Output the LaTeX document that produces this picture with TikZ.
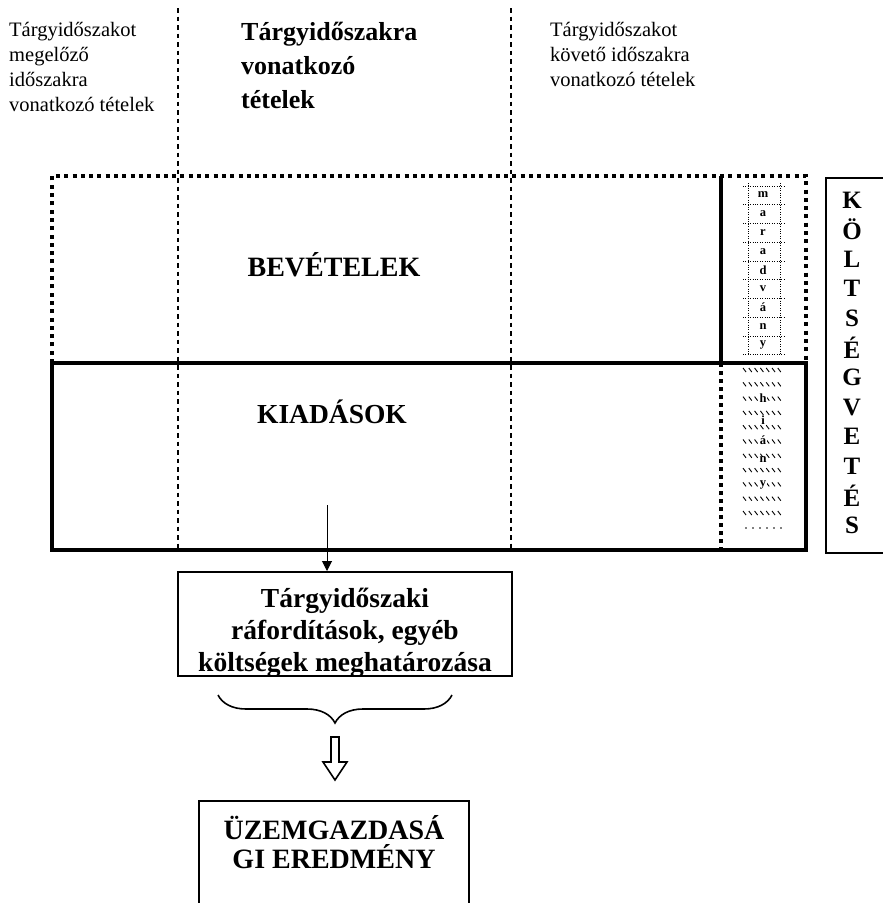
\documentclass[tikz,border=0pt]{standalone}
\usepackage{fontspec}
\setmainfont{Liberation Serif}
\usetikzlibrary{arrows.meta, positioning, decorations.pathreplacing, calc}

\newcommand{\hdrfont}{\fontsize{20.5}{25}\selectfont}
\newcommand{\hdrbold}{\fontsize{26}{34}\selectfont\bfseries}
\newcommand{\boxfont}{\fontsize{27.5}{32}\selectfont\bfseries}
\newcommand{\resfont}{\fontsize{28}{29}\selectfont\bfseries}
\newcommand{\vertfont}{\fontsize{25}{25}\selectfont\bfseries}
\newcommand{\stripfont}{\fontsize{12.5}{12.5}\selectfont\bfseries}

\begin{document}
\begin{tikzpicture}[x=1pt, y=-1pt,
    thickline/.style={line width=4pt},
    dotedge/.style={line width=4pt, dash pattern=on 4pt off 4.3pt},
    colline/.style={line width=1.8pt, dash pattern=on 4.5pt off 4pt},
    framebox/.style={draw, line width=1.6pt, inner sep=0pt},
    lbl/.style={inner sep=0pt, font=\boxfont},
    head/.style={inner sep=0pt, anchor=north west, align=left},
    cell/.style={line width=0.9pt, dash pattern=on 0.9pt off 1.5pt},
    hatch/.style={line width=0.9pt},
    striplbl/.style={inner sep=0.5pt, font=\stripfont}]

  \useasboundingbox (0,0) rectangle (883,903);
  \clip (0,0) rectangle (883,903);

  % Column heads
  \node[head, font=\hdrfont] (prev) at (9,22)
    {Tárgyidőszakot\\megelőző\\időszakra\\vonatkozó tételek};
  \node[head, font=\hdrbold] (curr) at (241,22)
    {Tárgyidőszakra\\vonatkozó\\tételek};
  \node[head, font=\hdrfont] (next) at (550,22)
    {Tárgyidőszakot\\követő időszakra\\vonatkozó tételek};

  % Column separators
  \draw[colline] (178,8) -- (178,550);
  \draw[colline] (511,8) -- (511,550);

  % Revenue block
  \draw[dotedge] (52,363) -- (52,176) -- (806,176) -- (806,363);
  \draw[thickline] (721,176) -- (721,363);
  \node[lbl, font=\fontsize{28}{32}\selectfont\bfseries] (bev) at (334,265) {BEVÉTELEK};

  % Expense block
  \draw[thickline] (52,363) rectangle (806,550);
  \draw[dotedge, dash pattern=on 3.5pt off 4.5pt] (721,363) -- (721,550);
  \node[lbl] (kiad) at (332,412) {KIADÁSOK};

  % Surplus strip
  \foreach \k in {0,...,9}
    \draw[cell] (743,{186+18.75*\k}) -- (784,{186+18.75*\k});
  \draw[cell] (748,183) -- (748,355);
  \draw[cell] (780,183) -- (780,355);
  \foreach \l [count=\i from 0] in {m,a,r,a,d,v,á,n,y}
    \node[striplbl] (sur\i) at (763,{195+18.75*\i}) {\l};

  % Deficit strip
  \foreach \r in {0,...,10}
    \foreach \c in {0,...,6}
      \draw[hatch] ({743+5.8*\c},{370+14.3*\r-2}) -- ++(3,4);
  \foreach \c in {0,...,5}
    \fill ({746+7*\c},528) circle (0.9);
  \foreach \l/\y [count=\i] in {h/398,i/420,á/440,n/460,y/485}
    \node[striplbl, fill=white] (def\i) at (763,\y) {\l};

  % Budget label
  \node[framebox, anchor=north west, minimum width=100pt, minimum height=375pt]
    (budget) at (825,177) {};
  \foreach \l [count=\i from 0] in {K,Ö,L,T,S,É,G,V,E,T,É,S}
    \node[lbl, font=\vertfont] (b\i) at (852,{200+29.6*\i}) {\l};

  % Period costs
  \node[framebox, anchor=north, minimum width=334pt, minimum height=104pt]
    (raf) at (345,571) {};
  \begin{scope}
    \clip (raf.south west) rectangle (raf.north east);
    \node[lbl, align=center, below=17pt of raf.north] (raftext)
      {Tárgyidőszaki\\ráfordítások, egyéb\\költségek meghatározása};
  \end{scope}
  \coordinate (kiadfoot) at (327,505);
  \draw[line width=1pt, -{Triangle[length=10pt, width=10pt]}]
    (kiadfoot) -- (kiadfoot |- raf.north);

  % Brace and open arrow
  \coordinate (brL) at (218,695);
  \coordinate (brR) at (452,695);
  \coordinate (brtip) at (335,725);
  \draw[line width=1.6pt, decorate, decoration={brace, amplitude=28pt, mirror}]
    (brL) -- (brR);
  \draw[line width=1.6pt] ($(brtip)+(-4,12)$) -- ++(8,0) -- ++(0,25) -- ++(8,0)
    -- ++(-12,18) -- ++(-12,-18) -- ++(8,0) -- cycle;

  % Result
  \node[framebox, anchor=north, minimum width=270pt, minimum height=150pt]
    (result) at (334,800) {};
  \node[lbl, align=center, font=\resfont, below=15pt of result.north] (restext)
    {ÜZEMGAZDASÁ\\GI EREDMÉNY};
\end{tikzpicture}
\end{document}
